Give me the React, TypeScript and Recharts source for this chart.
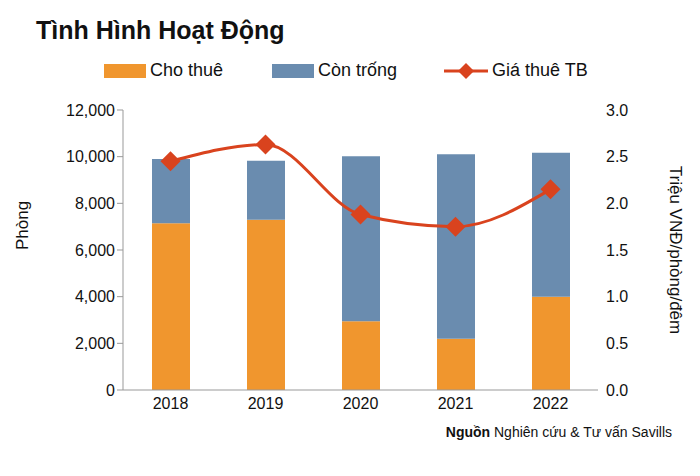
import React from 'react';
import { ComposedChart, Bar, Line, XAxis, YAxis } from 'recharts';

const years = ['2018', '2019', '2020', '2021', '2022'];
const rented = [7150, 7300, 2950, 2200, 4000];
const vacant = [2750, 2520, 7070, 7900, 6170];
const avgPrice = [2.45, 2.63, 1.88, 1.75, 2.15];

const data = years.map((y, i) => ({ year: y, rented: rented[i], vacant: vacant[i], price: avgPrice[i] }));

const ORANGE = '#f0962e';
const BLUE = '#6a8caf';
const RED = '#d9431e';
const FONT = '"Liberation Sans", Arial, sans-serif';

const Diamond = (props: any) => {
  const { cx, cy } = props;
  const r = 10;
  return <path d={`M${cx},${cy - r}L${cx + r},${cy}L${cx},${cy + r}L${cx - r},${cy}Z`} fill={RED} />;
};

export default function App() {
  return (
    <div style={{ position: 'absolute', left: 0, top: 0, width: 700, height: 476, background: '#fff', fontFamily: FONT }}>
      <div style={{ position: 'absolute', left: 36, top: 16, fontSize: 25, fontWeight: 'bold', color: '#111' }}>Tình Hình Hoạt Động</div>
      <div style={{ position: 'absolute', top: 60, left: 0, width: 700, fontSize: 18, color: '#111' }}>
        <div style={{ position: 'absolute', left: 104, display: 'flex', alignItems: 'center' }}>
          <span style={{ width: 42, height: 14, background: ORANGE, marginRight: 4 }} />Cho thuê
        </div>
        <div style={{ position: 'absolute', left: 272, display: 'flex', alignItems: 'center' }}>
          <span style={{ width: 42, height: 14, background: BLUE, marginRight: 4 }} />Còn trống
        </div>
        <div style={{ position: 'absolute', left: 444, display: 'flex', alignItems: 'center' }}>
          <svg width={44} height={20} style={{ marginRight: 4 }}>
            <line x1={0} y1={10} x2={44} y2={10} stroke={RED} strokeWidth={3} />
            <path d="M22,2L30,10L22,18L14,10Z" fill={RED} />
          </svg>Giá thuê TB
        </div>
      </div>
      <ComposedChart width={700} height={420} data={data} margin={{ top: 110, right: 0, bottom: 0, left: 0 }} barSize={38}>
        <XAxis dataKey="year" tick={{ fill: '#111', fontSize: 16, fontFamily: FONT }} tickLine={false} axisLine={{ stroke: '#999' }} height={30} />
        <YAxis yAxisId="l" domain={[0, 12000]} ticks={[0, 2000, 4000, 6000, 8000, 10000, 12000]} width={123}
          tickFormatter={(v: number) => v.toLocaleString('en-US')} tick={{ fill: '#111', fontSize: 16, fontFamily: FONT }}
          axisLine={{ stroke: '#999' }} tickLine={{ stroke: '#999' }} tickSize={6}
          label={{ value: 'Phòng', angle: -90, position: 'insideLeft', offset: 22, style: { fill: '#111', fontSize: 17, fontFamily: FONT } }} />
        <YAxis yAxisId="r" orientation="right" domain={[0, 3]} ticks={[0, 0.5, 1, 1.5, 2, 2.5, 3]} width={102}
          tickFormatter={(v: number) => v.toFixed(1)} tick={{ fill: '#111', fontSize: 16, fontFamily: FONT }}
          axisLine={false} tickLine={false}
          label={{ value: 'Triệu VNĐ/phòng/đêm', angle: 90, position: 'insideRight', offset: 24, style: { fill: '#111', fontSize: 17, fontFamily: FONT, textAnchor: 'middle' } }} />
        <Bar yAxisId="l" dataKey="rented" stackId="a" fill={ORANGE} isAnimationActive={false} />
        <Bar yAxisId="l" dataKey="vacant" stackId="a" fill={BLUE} isAnimationActive={false} />
        <Line yAxisId="r" type="monotone" dataKey="price" stroke={RED} strokeWidth={3} dot={<Diamond />} activeDot={false} isAnimationActive={false} />
      </ComposedChart>
      <div style={{ position: 'absolute', right: 28, top: 424, fontSize: 14, color: '#111' }}>
        <b>Nguồn</b> Nghiên cứu &amp; Tư vấn Savills
      </div>
    </div>
  );
}
